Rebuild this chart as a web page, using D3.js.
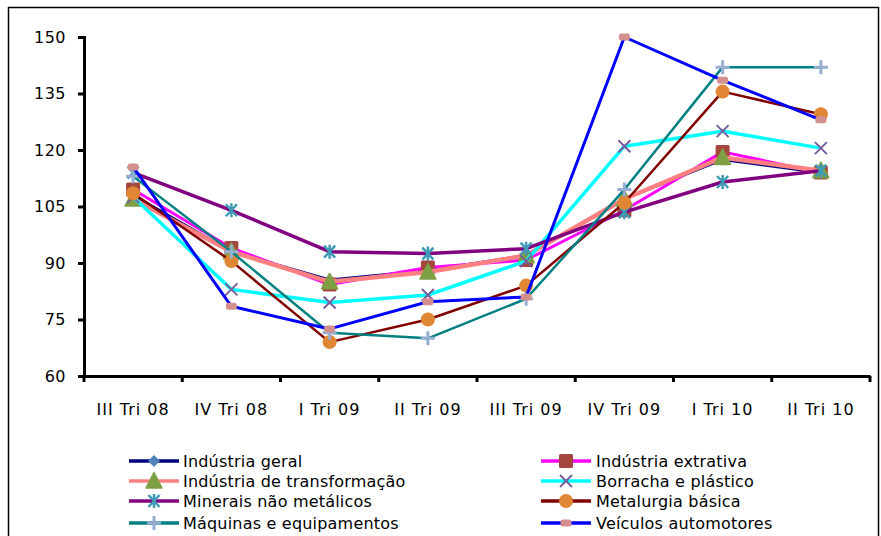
<!DOCTYPE html>
<html>
<head>
<meta charset="utf-8">
<script src="https://cdn.jsdelivr.net/npm/d3@7"></script>
<style>
  html, body { margin: 0; padding: 0; background: #fff; }
  svg { display: block; font-family: "DejaVu Sans", sans-serif; }
</style>
</head>
<body>
<svg id="chart" width="881" height="536"></svg>
<script>
// Quarterly index by industry sector
const categories = ["III Tri 08", "IV Tri 08", "I Tri 09", "II Tri 09", "III Tri 09", "IV Tri 09", "I Tri 10", "II Tri 10"];
const yTicks = [60, 75, 90, 105, 120, 135, 150];

const industriaGeral         = [108, 93, 85.5, 88, 92, 107, 117.5, 114];
const industriaExtrativa     = [109.5, 94, 84.3, 88.8, 90.8, 104, 119.5, 114];
const industriaTransformacao = [107, 93, 85, 87.6, 92, 107, 118, 114.5];
const borrachaPlastico       = [107.5, 83, 79.5, 81.5, 90.5, 121, 125, 120.5];
const mineraisNaoMetalicos   = [114, 104, 93, 92.5, 93.8, 103.5, 111.5, 114.5];
const metalurgiaBasica       = [108.5, 90.5, 69, 75, 84, 106, 135.5, 129.5];
const maquinasEquipamentos   = [113, 93, 71.5, 70, 80.5, 109.5, 142, 142];
const veiculosAutomotores    = [115.5, 78.5, 72.5, 79.7, 81, 150, 138.5, 128];

const seriesNames = ["Indústria geral", "Indústria extrativa", "Indústria de transformação", "Borracha e plástico",
                     "Minerais não metálicos", "Metalurgia básica", "Máquinas e equipamentos", "Veículos automotores"];

const series = [
  { name: seriesNames[0], values: industriaGeral,         line: "#000080", width: 3,   marker: "diamond",  mfill: "#4F81BD" },
  { name: seriesNames[1], values: industriaExtrativa,     line: "#FF00FF", width: 3,   marker: "square",   mfill: "#A5463F" },
  { name: seriesNames[2], values: industriaTransformacao, line: "#FF8080", width: 4.5, marker: "triangle", mfill: "#7F9F45" },
  { name: seriesNames[3], values: borrachaPlastico,       line: "#00FFFF", width: 3.5, marker: "x",        mfill: "#7A5C9C" },
  { name: seriesNames[4], values: mineraisNaoMetalicos,   line: "#800080", width: 3.5, marker: "star",     mfill: "#3F9BB5" },
  { name: seriesNames[5], values: metalurgiaBasica,       line: "#800000", width: 2.5, marker: "circle",   mfill: "#E08634" },
  { name: seriesNames[6], values: maquinasEquipamentos,   line: "#008080", width: 2.5, marker: "plus",     mfill: "#95AED2" },
  { name: seriesNames[7], values: veiculosAutomotores,    line: "#0000FF", width: 3,   marker: "dash",     mfill: "#D4908E" }
];

const svg = d3.select("#chart");

// outer frame
svg.append("rect")
  .attr("x", 8.5).attr("y", 7.5).attr("width", 870).attr("height", 540)
  .attr("fill", "none").attr("stroke", "#000").attr("stroke-width", 1.5);

const plot = { left: 84, right: 870, top: 37, bottom: 376 };

const x = d3.scaleBand().domain(categories).range([plot.left, plot.right]);
const y = d3.scaleLinear().domain([60, 150]).range([plot.bottom, plot.top]);

// y axis
const yAxis = svg.append("g")
  .attr("transform", `translate(${plot.left},0)`)
  .call(d3.axisLeft(y).tickValues(yTicks).tickSize(6).tickPadding(12));
yAxis.select(".domain").attr("stroke-width", 3);
yAxis.selectAll(".tick line").attr("stroke-width", 3);
yAxis.selectAll(".tick text").attr("font-size", 16).attr("fill", "#000")
  .attr("font-family", "DejaVu Sans").attr("letter-spacing", 0.5);

// x axis with ticks on the category boundaries
const xAxis = svg.append("g")
  .attr("transform", `translate(0,${plot.bottom})`)
  .call(d3.axisBottom(x).tickSize(0).tickPadding(28));
xAxis.select(".domain").attr("stroke-width", 3);
xAxis.selectAll(".tick text").attr("font-size", 16).attr("fill", "#000")
  .attr("font-family", "DejaVu Sans").attr("letter-spacing", 1);
const bounds = categories.map(c => x(c)).concat([x(categories[categories.length - 1]) + x.bandwidth()]);
xAxis.selectAll(".bound").data(bounds).enter().append("line")
  .attr("x1", d => d).attr("x2", d => d).attr("y1", 0).attr("y2", 6)
  .attr("stroke", "#000").attr("stroke-width", 3);

const cx = (i) => x(categories[i]) + x.bandwidth() / 2;

function drawMarker(g, type, px, py, fill, scale) {
  const s = scale || 1;
  switch (type) {
    case "diamond":
      g.append("path").attr("d", `M${px},${py - 6 * s}L${px + 6 * s},${py}L${px},${py + 6 * s}L${px - 6 * s},${py}Z`).attr("fill", fill);
      break;
    case "square":
      g.append("rect").attr("x", px - 7 * s).attr("y", py - 7 * s).attr("width", 14 * s).attr("height", 14 * s)
        .attr("rx", 1.5).attr("fill", fill);
      break;
    case "triangle":
      g.append("path").attr("d", `M${px},${py - 8.5 * s}L${px + 8 * s},${py + 7 * s}L${px - 8 * s},${py + 7 * s}Z`)
        .attr("fill", fill).attr("stroke", fill).attr("stroke-linejoin", "round").attr("stroke-width", 1.5);
      break;
    case "x":
      g.append("path").attr("d", `M${px - 6 * s},${py - 6 * s}L${px + 6 * s},${py + 6 * s}M${px - 6 * s},${py + 6 * s}L${px + 6 * s},${py - 6 * s}`)
        .attr("stroke", fill).attr("stroke-width", 2);
      break;
    case "star":
      g.append("path").attr("d", `M${px - 5.5 * s},${py - 6 * s}L${px + 5.5 * s},${py + 6 * s}M${px - 5.5 * s},${py + 6 * s}L${px + 5.5 * s},${py - 6 * s}M${px},${py - 7 * s}L${px},${py + 7 * s}`)
        .attr("stroke", fill).attr("stroke-width", 2.5);
      break;
    case "circle":
      g.append("circle").attr("cx", px).attr("cy", py).attr("r", 7 * s).attr("fill", fill);
      break;
    case "plus":
      g.append("path").attr("d", `M${px - 7 * s},${py}L${px + 7 * s},${py}M${px},${py - 7 * s}L${px},${py + 7 * s}`)
        .attr("stroke", fill).attr("stroke-width", 3);
      break;
    case "dash":
      g.append("rect").attr("x", px - 5.5 * s).attr("y", py - 3.5 * s).attr("width", 11 * s).attr("height", 7 * s)
        .attr("rx", 2.5).attr("fill", fill);
      break;
  }
}

const lineGen = d3.line().x((d, i) => cx(i)).y(d => y(d));

series.forEach(s => {
  const g = svg.append("g");
  g.append("path").datum(s.values).attr("d", lineGen)
    .attr("fill", "none").attr("stroke", s.line).attr("stroke-width", s.width)
    .attr("stroke-linejoin", "round");
  s.values.forEach((v, i) => drawMarker(g, s.marker, cx(i), y(v), s.mfill));
});

// legend: two columns of four entries
const legendRows = [461, 481, 501, 523];
const legendCols = [{ x1: 129, x2: 179, tx: 183 }, { x1: 541, x2: 591, tx: 596 }];
const legendOrder = [[0, 2, 4, 6], [1, 3, 5, 7]];
legendOrder.forEach((col, ci) => {
  col.forEach((si, ri) => {
    const s = series[si];
    const c = legendCols[ci];
    const ly = legendRows[ri];
    const g = svg.append("g");
    g.append("line").attr("x1", c.x1).attr("x2", c.x2).attr("y1", ly).attr("y2", ly)
      .attr("stroke", s.line).attr("stroke-width", 3.5);
    drawMarker(g, s.marker, (c.x1 + c.x2) / 2, ly, s.mfill, 1);
    g.append("text").attr("x", c.tx).attr("y", ly + 6).attr("font-size", 16).attr("fill", "#000")
      .attr("letter-spacing", 0.2).text(s.name);
  });
});
</script>
</body>
</html>
